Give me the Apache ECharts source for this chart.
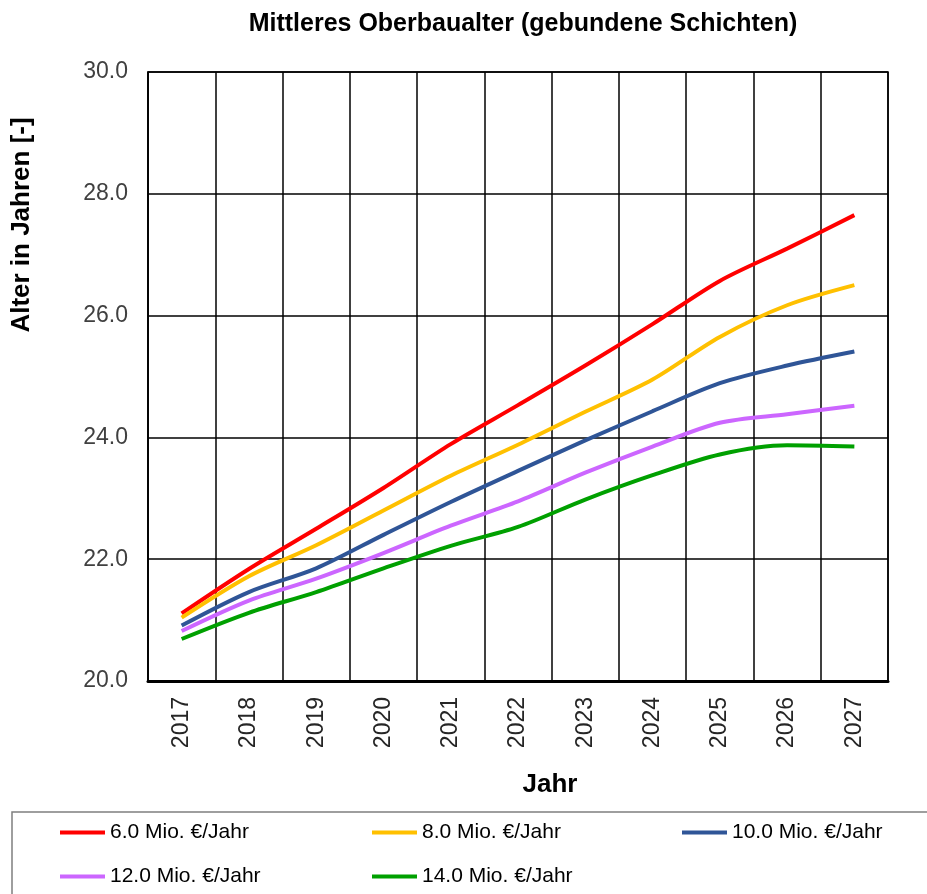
<!DOCTYPE html>
<html>
<head>
<meta charset="utf-8">
<script src="https://cdn.jsdelivr.net/npm/echarts@6/dist/echarts.min.js"></script>
<style>
  html, body { margin: 0; padding: 0; background: #fff; }
  #chart { width: 927px; height: 894px; }
</style>
</head>
<body>
<div id="chart"></div>
<script>
// Jahre und Werte
const years = ['2017', '2018', '2019', '2020', '2021', '2022', '2023', '2024', '2025', '2026', '2027'];

const mio6  = [21.11, 21.84, 22.50, 23.17, 23.89, 24.53, 25.18, 25.86, 26.57, 27.10, 27.65];
const mio8  = [21.04, 21.72, 22.23, 22.80, 23.37, 23.88, 24.42, 24.95, 25.65, 26.17, 26.50];
const mio10 = [20.91, 21.46, 21.85, 22.40, 22.94, 23.45, 23.95, 24.43, 24.89, 25.18, 25.41];
const mio12 = [20.82, 21.32, 21.68, 22.10, 22.55, 22.95, 23.42, 23.85, 24.24, 24.38, 24.52];
const mio14 = [20.69, 21.12, 21.46, 21.85, 22.22, 22.53, 22.98, 23.38, 23.72, 23.87, 23.85];

const seriesNames = ['6.0 Mio. €/Jahr', '8.0 Mio. €/Jahr', '10.0 Mio. €/Jahr', '12.0 Mio. €/Jahr', '14.0 Mio. €/Jahr'];
const seriesData = [mio6, mio8, mio10, mio12, mio14];
const colors = ['#ff0000', '#ffc000', '#2f5597', '#cc66ff', '#00a000'];

const font = 'Arial, "Liberation Sans", sans-serif';

const chart = echarts.init(document.getElementById('chart'));

function legendCol(left, names) {
    return {
        orient: 'vertical',
        left: left,
        top: 822,
        padding: 0,
        itemWidth: 45,
        itemHeight: 4,
        itemGap: 23,
        icon: 'rect',
        data: names,
        textStyle: { fontSize: 21, color: '#000', fontFamily: font }
    };
}

const option = {
    animation: false,
    color: colors,
    title: {
        text: 'Mittleres Oberbaualter (gebundene Schichten)',
        left: 518,
        textAlign: 'center',
        top: 7,
        textStyle: { fontSize: 25, fontWeight: 'bold', color: '#000', fontFamily: font }
    },
    legend: [
        legendCol(60, [seriesNames[0], seriesNames[3]]),
        legendCol(372, [seriesNames[1], seriesNames[4]]),
        legendCol(682, [seriesNames[2]])
    ],
    grid: {
        left: 148, right: 39, top: 72, bottom: 213,
        show: true, borderColor: '#000', borderWidth: 1.5
    },
    xAxis: {
        type: 'category',
        data: years,
        boundaryGap: true,
        axisLine: { show: true, lineStyle: { color: '#000', width: 3 } },
        axisTick: { show: false },
        splitLine: { show: true, lineStyle: { color: '#000', width: 1.5 } },
        axisLabel: { rotate: 90, margin: 16, fontSize: 23, color: '#262626', fontFamily: font }
    },
    yAxis: {
        type: 'value',
        min: 20, max: 30, interval: 2,
        axisLine: { show: true, lineStyle: { color: '#000', width: 1.5 } },
        axisTick: { show: false },
        splitLine: { show: true, lineStyle: { color: '#000', width: 1.5 } },
        axisLabel: {
            margin: 20, fontSize: 23, color: '#404040', fontFamily: font,
            formatter: v => v.toFixed(1)
        }
    },
    graphic: [
        {
            type: 'text',
            x: 22, y: 225,
            rotation: Math.PI / 2,
            style: {
                text: 'Alter in Jahren [-]',
                fontSize: 26, fontWeight: 'bold', fill: '#000', fontFamily: font,
                align: 'center', verticalAlign: 'middle'
            }
        },
        {
            type: 'text',
            x: 550, y: 785,
            style: {
                text: 'Jahr',
                fontSize: 26, fontWeight: 'bold', fill: '#000', fontFamily: font,
                align: 'center', verticalAlign: 'middle'
            }
        },
        {
            type: 'rect',
            shape: { x: 12, y: 812, width: 940, height: 120 },
            style: { fill: 'none', stroke: '#7f7f7f', lineWidth: 1.5 },
            z: -1
        }
    ],
    series: seriesData.map((d, i) => ({
        name: seriesNames[i],
        type: 'line',
        data: d,
        smooth: 0.3,
        symbol: 'none',
        lineStyle: { width: 4, color: colors[i] },
        itemStyle: { color: colors[i] }
    }))
};

chart.setOption(option);
</script>
</body>
</html>
